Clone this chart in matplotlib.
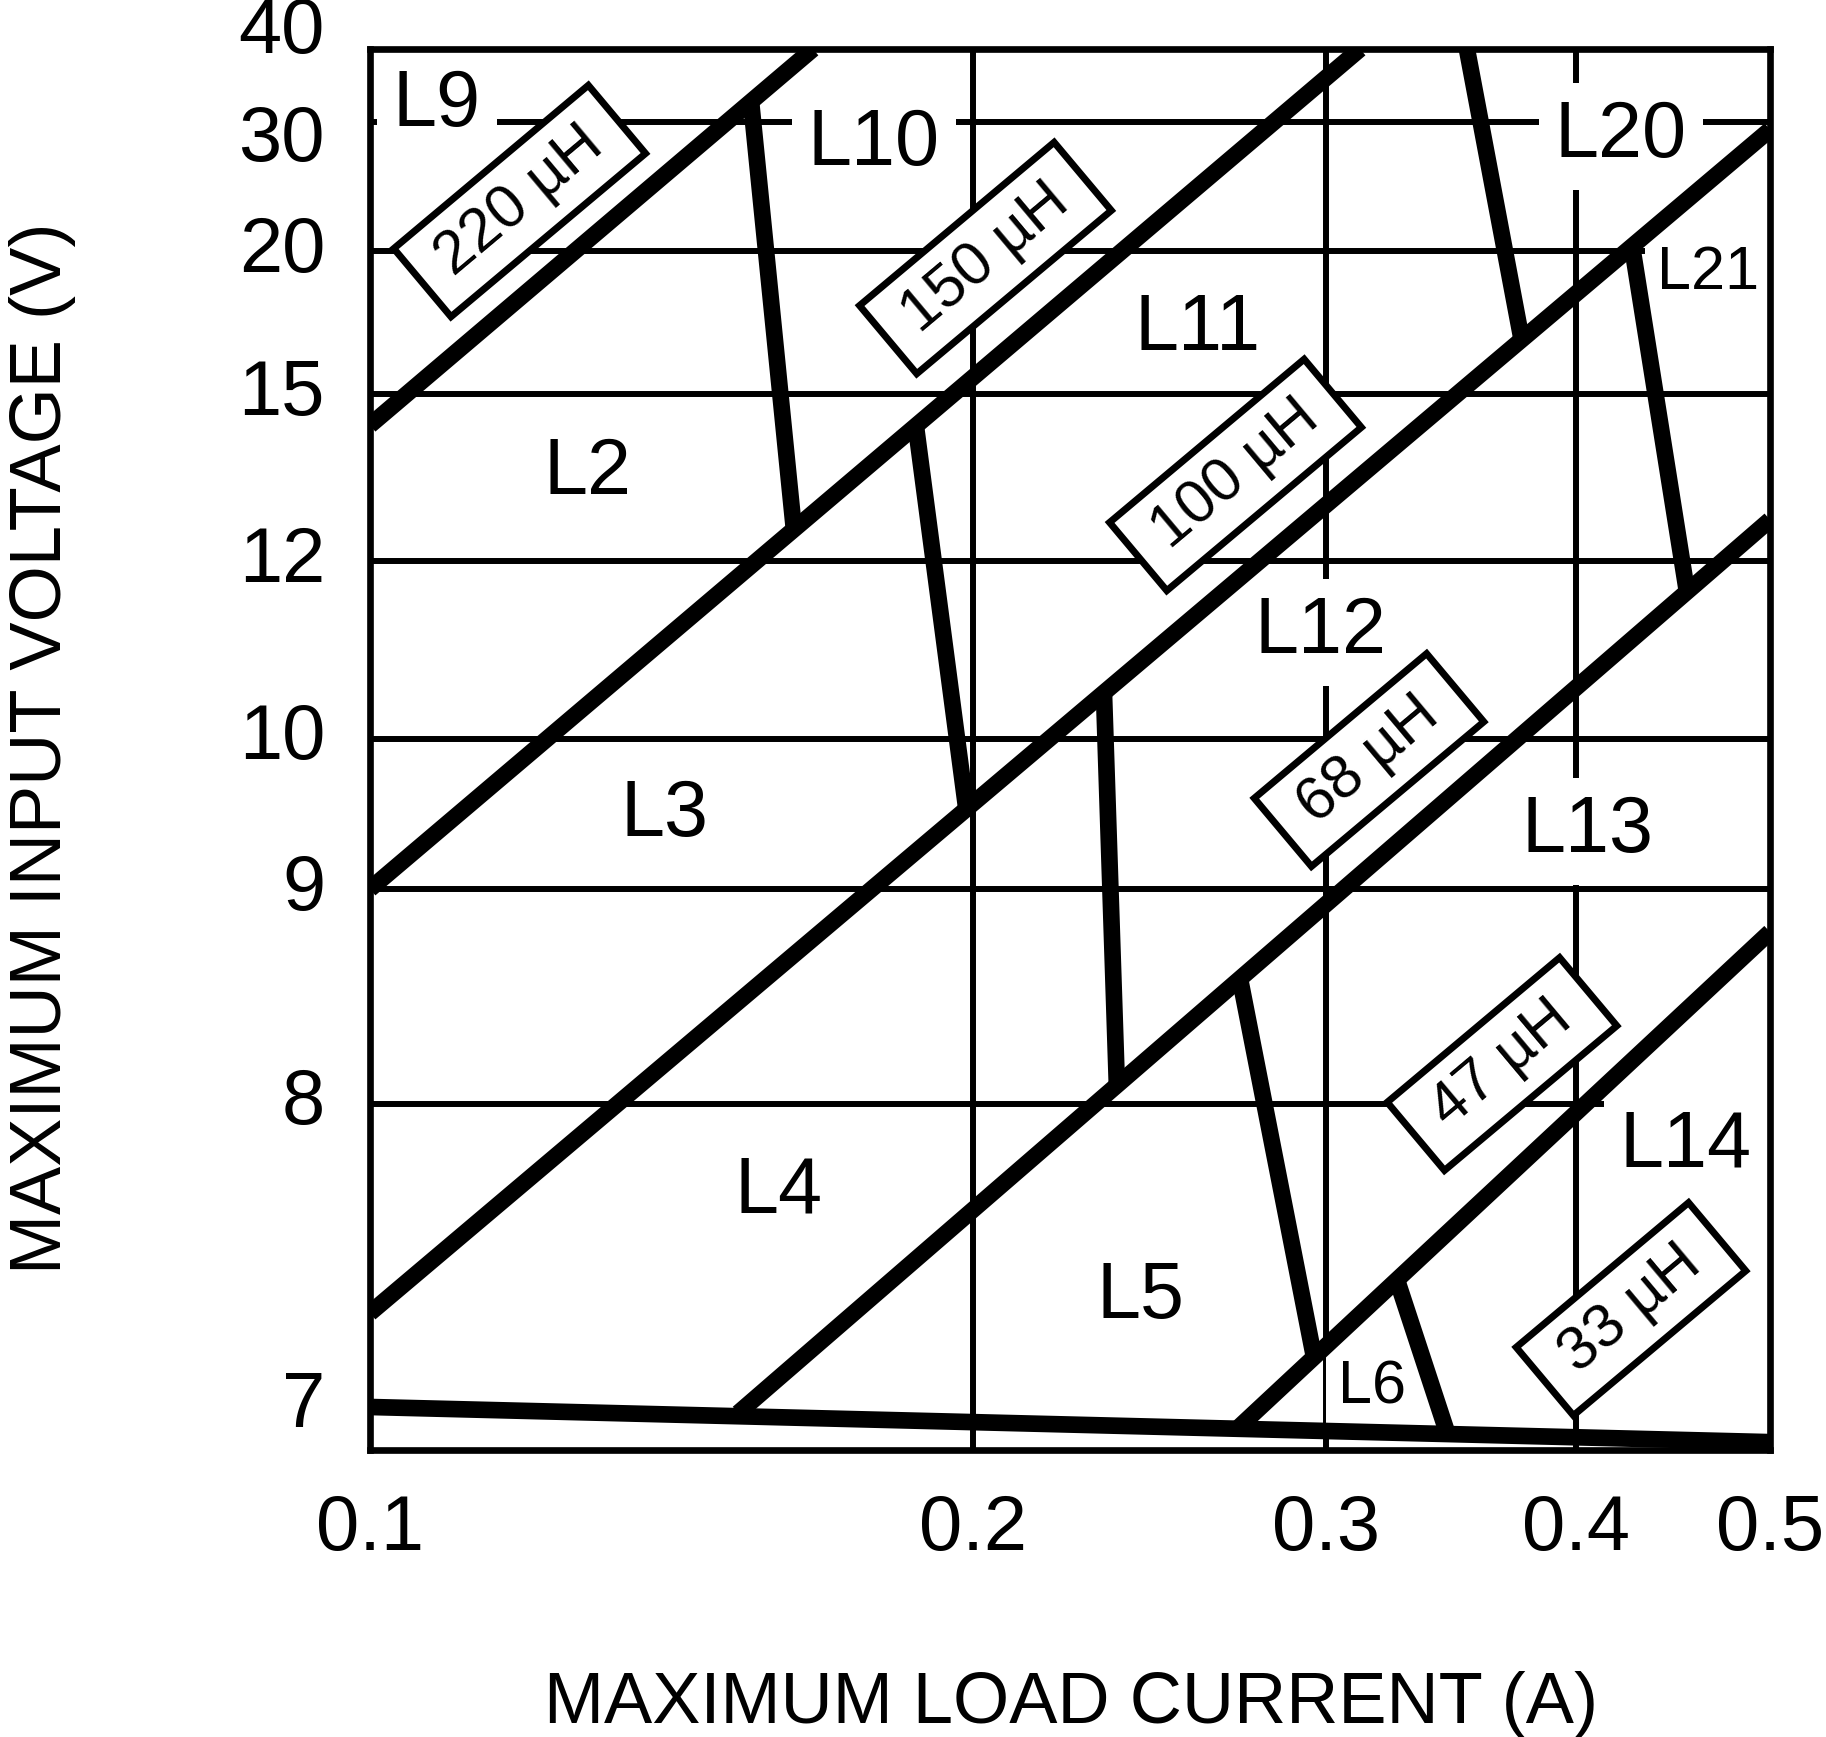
import numpy as np
import matplotlib
matplotlib.use('Agg')
import matplotlib.pyplot as plt
from matplotlib.patches import Rectangle
from matplotlib.transforms import Affine2D, ScaledTranslation

plt.rcParams['font.family'] = ['Liberation Sans', 'DejaVu Sans']

# axis ticks (the voltage axis is hand drawn, so its scale is given by tick spacing)
x_ticks = [0.1, 0.2, 0.3, 0.4, 0.5]
x_tick_labels = ['0.1', '0.2', '0.3', '0.4', '0.5']
y_ticks = [7, 8, 9, 10, 12, 15, 20, 30, 40]
y_tick_labels = ['7', '8', '9', '10', '12', '15', '20', '30', '40']
y_tick_frac = [0.0307, 0.2470, 0.4004, 0.5075, 0.6345, 0.7537, 0.8558, 0.9479, 1.0]
x_grid = [0.2, 0.3, 0.4]
y_grid = [8, 9, 10, 12, 15, 20, 30]

# inductance boundaries: (load current A, input voltage V)
b220_i = [0.100, 0.1664]
b220_v = [14.44, 40.0]
b150_i = [0.100, 0.3121]
b150_v = [9.00, 40.0]
b100_i = [0.100, 0.500]
b100_v = [7.31, 29.4]
b68_i = [0.1527, 0.500]
b68_v = [6.98, 12.74]
b47_i = [0.2712, 0.500]
b47_v = [6.93, 8.80]
floor_i = [0.100, 0.500]
floor_v = [7.00, 6.884]

# boundaries between inductor codes of the same value
v_l10_i = [0.1550, 0.1628]
v_l10_v = [32.6, 12.56]
v_l11_i = [0.1873, 0.1984]
v_l11_v = [14.43, 9.55]
v_l12_i = [0.2325, 0.2360]
v_l12_v = [10.53, 8.08]
v_l13_i = [0.2719, 0.2960]
v_l13_v = [8.58, 7.165]
v_l14_i = [0.3256, 0.3449]
v_l14_v = [7.42, 6.917]
v_l20_i = [0.3529, 0.3756]
v_l20_v = [40.0, 16.99]
v_l21_i = [0.4267, 0.4545]
v_l21_v = [20.35, 11.65]

region_names = ['L9', 'L10', 'L20', 'L21', 'L11', 'L2', 'L3', 'L12', 'L13',
                'L4', 'L5', 'L14', 'L6']
inductances = ['220 µH', '150 µH', '100 µH', '68 µH', '47 µH', '33 µH']

# layout (axes fraction)
region_xy = [(0.0479, 0.9450), (0.3600, 0.9172), (0.8936, 0.9229), (0.9557, 0.8287),
             (0.5914, 0.7852), (0.1557, 0.6824), (0.2107, 0.4383), (0.6786, 0.5689),
             (0.8693, 0.4268), (0.2921, 0.1692), (0.5500, 0.0942), (0.9400, 0.2020),
             (0.7157, 0.0335)]
region_size = [57, 57, 57, 44, 57, 57, 57, 57, 57, 57, 57, 57, 44]
box_xy = [(0.1069, 0.8915), (0.4396, 0.8508), (0.6182, 0.6960),
          (0.7136, 0.4925), (0.8086, 0.2755), (0.9007, 0.1006)]
box_w = [254, 254, 254, 225, 225, 225]
label_dy = {30: -19, 40: 16}


def _interp_ext(x, xp, fp):
    x = np.asarray(x, dtype=float)
    y = np.interp(x, xp, fp)
    lo = fp[0] + (x - xp[0]) * (fp[1] - fp[0]) / (xp[1] - xp[0])
    hi = fp[-1] + (x - xp[-1]) * (fp[-1] - fp[-2]) / (xp[-1] - xp[-2])
    return np.where(x < xp[0], lo, np.where(x > xp[-1], hi, y))


def fwd(v):
    return _interp_ext(v, y_ticks, y_tick_frac)


def inv(f):
    return _interp_ext(f, y_tick_frac, y_ticks)


fig = plt.figure(figsize=(18.26, 17.37), dpi=100)
ax = fig.add_axes([370 / 1826, 287 / 1737, 1400 / 1826, 1401 / 1737])
ax.set_xscale('log')
ax.set_yscale('function', functions=(fwd, inv))
ax.set_xlim(0.1, 0.5)
ax.set_ylim(float(inv(0.0)), 40)
ax.set_xticks([])
ax.set_yticks([])
ax.xaxis.set_minor_locator(matplotlib.ticker.NullLocator())
ax.yaxis.set_minor_locator(matplotlib.ticker.NullLocator())
for s in ax.spines.values():
    s.set_linewidth(4.8)

for v in y_grid:
    ax.axhline(v, color='black', lw=4.3, zorder=1)
for a in x_grid:
    ax.axvline(a, color='black', lw=4.3, zorder=1)

thick = dict(color='black', lw=12, solid_capstyle='butt', solid_joinstyle='miter', zorder=2)
for xs, ys in [(b220_i, b220_v), (b150_i, b150_v), (b100_i, b100_v), (b68_i, b68_v),
               (b47_i, b47_v), (floor_i, floor_v),
               (v_l10_i, v_l10_v), (v_l11_i, v_l11_v), (v_l12_i, v_l12_v),
               (v_l13_i, v_l13_v), (v_l14_i, v_l14_v), (v_l20_i, v_l20_v),
               (v_l21_i, v_l21_v)]:
    ax.plot(xs, ys, **thick)

for name, (fx, fy), fs in zip(region_names, region_xy, region_size):
    ax.text(fx, fy, name, transform=ax.transAxes, ha='center', va='baseline',
            fontsize=fs, zorder=1.5,
            bbox=dict(boxstyle='square,pad=0.2', fc='white', ec='none'))

for name, (fx, fy), w in zip(inductances, box_xy, box_w):
    tr = Affine2D().rotate_deg(40) + ScaledTranslation(fx, fy, ax.transAxes)
    rect = Rectangle((-w / 2, -44.5), w, 89, transform=tr, fc='white', ec='black',
                     lw=5, zorder=3, clip_on=False)
    ax.add_artist(rect)
    ax.text(fx, fy, name, transform=ax.transAxes, rotation=40, rotation_mode='anchor',
            ha='center', va='center', fontsize=44, zorder=4)

for v, lbl in zip(y_ticks, y_tick_labels):
    ax.annotate(lbl, xy=(0, v), xycoords=('axes fraction', 'data'),
                xytext=(-45, label_dy.get(v, 0)), textcoords='offset pixels',
                ha='right', va='center', fontsize=56, annotation_clip=False)
for a, lbl in zip(x_ticks, x_tick_labels):
    ax.annotate(lbl, xy=(a, 0), xycoords=('data', 'axes fraction'),
                xytext=(0, -100), textcoords='offset pixels',
                ha='center', va='baseline', fontsize=56, annotation_clip=False)

fig.text(1071 / 1826, 14 / 1737, 'MAXIMUM LOAD CURRENT (A)', ha='center', va='baseline',
         fontsize=52)
fig.text(43 / 1826, 1 - 748 / 1737, 'MAXIMUM INPUT VOLTAGE (V)', rotation=90,
         ha='center', va='center', fontsize=52)

fig.savefig('out.png', dpi=100)
